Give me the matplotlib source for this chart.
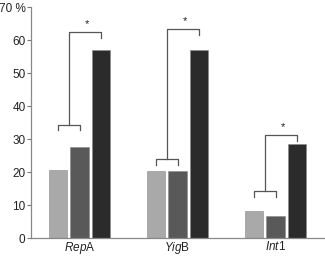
import matplotlib
matplotlib.use("Agg")
import matplotlib.pyplot as plt
import numpy as np

plt.rcParams['font.family'] = ['Liberation Sans', 'DejaVu Sans']
plt.rcParams['mathtext.fontset'] = 'custom'
plt.rcParams['mathtext.rm'] = 'Liberation Sans'
plt.rcParams['mathtext.it'] = 'Liberation Sans:italic'

genes = [r"$\mathit{Rep}$A", r"$\mathit{Yig}$B", r"$\mathit{Int}$1"]
series1 = [20.6, 20.4, 8.2]
series2 = [27.5, 20.4, 6.7]
series3 = [57.0, 57.0, 28.4]
# bracket heights: lower bracket top, upper bracket top
low_br = [34.4, 23.9, 14.3]
high_br = [62.5, 63.3, 31.2]
yticks = [0, 10, 20, 30, 40, 50, 60, 70]
ytick_labels = ["0", "10", "20", "30", "40", "50", "60", "70 %"]

colors = ["#a9a9a9", "#595959", "#2b2b2b"]
fig = plt.figure(figsize=(3.25, 2.56), dpi=100)
ax = fig.add_axes([0.0954, 0.0703, 0.9046, 0.902])

x = np.arange(len(genes))
step = 0.224
width = 0.184
for i, (vals, c) in enumerate(zip([series1, series2, series3], colors)):
    ax.bar(x + (i - 1) * step, vals, width, color=c, edgecolor="#888888", linewidth=0.4, zorder=2)

lc = "#555555"
lw = 0.9
leg = 1.8
for i in range(len(genes)):
    xa = x[i] - step
    xb = x[i]
    xc = x[i] + step
    mid = (xa + xb) / 2
    yl = low_br[i]
    yh = high_br[i]
    ax.plot([xa, xa, xb, xb], [yl - leg, yl, yl, yl - leg], color=lc, lw=lw)
    ax.plot([mid, mid, xc, xc], [yl, yh, yh, yh - leg], color=lc, lw=lw)
    ax.text((mid + xc) / 2 + 0.02, yh + 0.9, "*", ha="center", va="bottom", fontsize=8, color="#222222")

ax.set_xlim(-0.495, 2.505)
ax.set_ylim(0, 70)
ax.set_xticks(x)
ax.set_xticklabels(genes, fontsize=8.5)
ax.set_yticks(yticks)
ax.set_yticklabels(ytick_labels, fontsize=8.5)
ax.tick_params(axis="x", length=0, pad=1.5)
ax.tick_params(axis="y", length=3, width=0.8, color="#777777", pad=1)
for s in ["top", "right"]:
    ax.spines[s].set_visible(False)
for s in ["left", "bottom"]:
    ax.spines[s].set_color("#888888")
    ax.spines[s].set_linewidth(0.9)
for lab in ax.get_yticklabels() + ax.get_xticklabels():
    lab.set_color("#222222")

fig.savefig("out.png", dpi=100)
